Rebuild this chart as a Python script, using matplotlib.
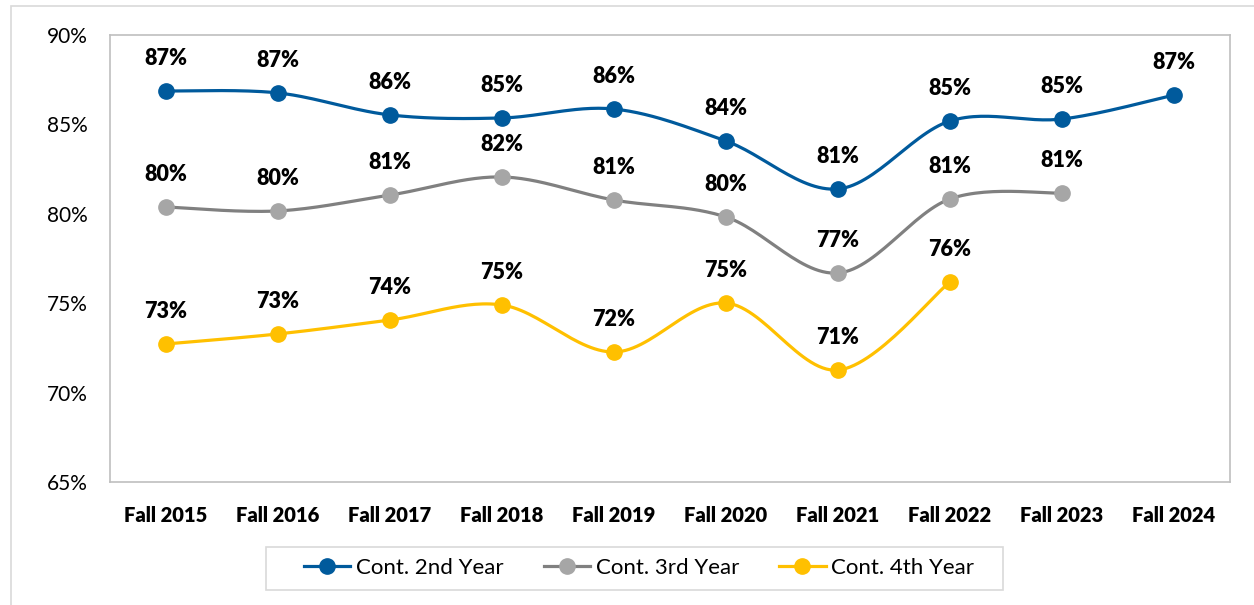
import numpy as np
import matplotlib
matplotlib.use("Agg")
import matplotlib.pyplot as plt
from matplotlib.patches import Rectangle

categories = ["Fall 2015", "Fall 2016", "Fall 2017", "Fall 2018", "Fall 2019",
              "Fall 2020", "Fall 2021", "Fall 2022", "Fall 2023", "Fall 2024"]
cont_2nd = [86.87, 86.76, 85.53, 85.36, 85.86, 84.07, 81.39, 85.19, 85.30, 86.64]
cont_3rd = [80.38, 80.16, 81.05, 82.06, 80.77, 79.82, 76.69, 80.83, 81.16]
cont_4th = [72.72, 73.28, 74.06, 74.90, 72.27, 75.01, 71.26, 76.19]
labels_2nd = ["87%", "87%", "86%", "85%", "86%", "84%", "81%", "85%", "85%", "87%"]
labels_3rd = ["80%", "80%", "81%", "82%", "81%", "80%", "77%", "81%", "81%"]
labels_4th = ["73%", "73%", "74%", "75%", "72%", "75%", "71%", "76%"]
series_names = ["Cont. 2nd Year", "Cont. 3rd Year", "Cont. 4th Year"]
yticks = [65, 70, 75, 80, 85, 90]

plt.rcParams['font.family'] = ['Lato', 'DejaVu Sans']

W, H = 1254, 605
fig = plt.figure(figsize=(W / 100, H / 100), dpi=100)
ax = fig.add_axes([110 / W, (H - 482) / H, (1230 - 110) / W, (482 - 35) / H])
ax.set_xlim(-0.5, len(categories) - 0.5)
ax.set_ylim(65, 90)

# outer chart-area border
fig.patches.append(Rectangle((11 / W, -0.05), 1.2, (H - 6) / H + 0.05,
                             transform=fig.transFigure, fill=False,
                             edgecolor="#D9D9D9", linewidth=1.2))
# legend box
fig.patches.append(Rectangle((266 / W, (H - 590) / H), (1003 - 266) / W, 43 / H,
                             transform=fig.transFigure, fill=False,
                             edgecolor="#D9D9D9", linewidth=1.2))

def smooth(xs, ys, n=30):
    # Catmull-Rom (Excel-style) smoothing in display space
    pts = ax.transData.transform(np.column_stack([xs, ys]))
    P = np.vstack([pts[0], pts, pts[-1]])
    out = []
    for i in range(1, len(P) - 2):
        p0, p1, p2, p3 = P[i - 1], P[i], P[i + 1], P[i + 2]
        c1 = p1 + (p2 - p0) / 6
        c2 = p2 - (p3 - p1) / 6
        t = np.linspace(0, 1, n)[:, None]
        seg = ((1 - t) ** 3) * p1 + 3 * ((1 - t) ** 2) * t * c1 + 3 * (1 - t) * t ** 2 * c2 + t ** 3 * p2
        out.append(seg if i == 1 else seg[1:])
    out = np.vstack(out)
    return ax.transData.inverted().transform(out)

series = [
    (cont_2nd, labels_2nd, "#005A9C", "#005A9C"),
    (cont_3rd, labels_3rd, "#808080", "#A6A6A6"),
    (cont_4th, labels_4th, "#FFC000", "#FFC000"),
]

handles = []
for (vals, labs, lc, mc), name in zip(series, series_names):
    xs = np.arange(len(vals))
    curve = smooth(xs, vals)
    ax.plot(curve[:, 0], curve[:, 1], color=lc, linewidth=2.3, solid_capstyle='round', zorder=2)
    ax.plot(xs, vals, linestyle='none', marker='o', markersize=11,
            markerfacecolor=mc, markeredgecolor=mc, zorder=3)
    h, = ax.plot([], [], color=lc, linewidth=2.3, marker='o', markersize=11,
                 markerfacecolor=mc, markeredgecolor=mc)
    handles.append(h)
    for x, v, t in zip(xs, vals, labs):
        ax.annotate(t, (x, v), xytext=(0, 23.5), textcoords='offset points',
                    ha='center', va='center', fontsize=15.5, fontweight='heavy', color='black')

ax.set_xticks(range(len(categories)))
ax.set_xticklabels(categories, fontsize=14.5, fontweight='heavy')
ax.set_yticks(yticks)
ax.set_yticklabels([f"{v}%" for v in yticks], fontsize=15)
ax.tick_params(axis='both', length=0)
ax.tick_params(axis='y', pad=16)
ax.tick_params(axis='x', pad=17)
for s in ax.spines.values():
    s.set_color("#BFBFBF")
    s.set_linewidth(1.2)

leg = fig.legend(handles, series_names, loc='center',
                 bbox_to_anchor=(639 / W, (H - 568) / H), ncol=3,
                 fontsize=16, frameon=False,
                 handlelength=2.1, handletextpad=0.25, columnspacing=1.8,
                 borderpad=0.0, borderaxespad=0)

fig.savefig("out.png", dpi=100)
